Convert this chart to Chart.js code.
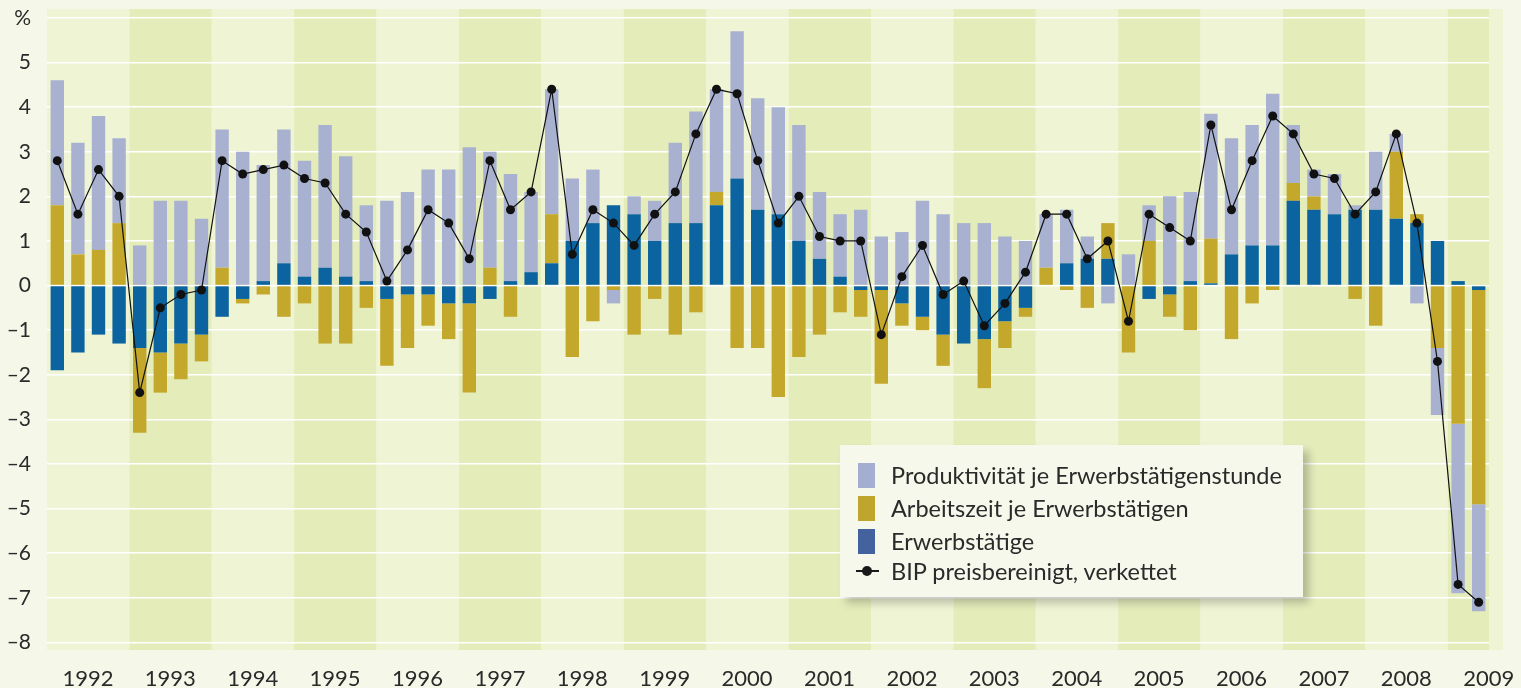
<!DOCTYPE html>
<html>
<head>
<meta charset="utf-8">
<script src="https://cdn.jsdelivr.net/npm/chart.js@4.4.0/dist/chart.umd.min.js"></script>
<style>
  html, body { margin: 0; padding: 0; background: #f5f7e9; }
  #wrap { position: relative; width: 1521px; height: 688px; }
  canvas { display: block; }
  .legend {
    position: absolute; left: 840px; top: 445px; width: 463px; height: 152px;
    background: #f6f8eb; box-shadow: 6px 6px 8px rgba(0,0,0,0.22);
    font-family: Lato, sans-serif; font-size: 23.5px; color: #2a2a2a;
  }
  .row { position: absolute; left: 0; height: 32px; display: flex; align-items: center; white-space: nowrap; }
  .sw { width: 17px; height: 25px; margin-left: 18px; margin-right: 16px; }
  .ln { position: relative; width: 23px; height: 2px; background: #1a1a1a; margin-left: 16px; margin-right: 12px; }
  .ln::after { content: ""; position: absolute; left: 6px; top: -4px; width: 10px; height: 10px; border-radius: 50%; background: #1a1a1a; }
</style>
</head>
<body>
<div id="wrap">
  <canvas id="chart" width="1521" height="688"></canvas>
  <div class="legend">
    <div class="row" style="top:14px"><div class="sw" style="background:#a3aed1"></div>Produktivität je Erwerbstätigenstunde</div>
    <div class="row" style="top:47px"><div class="sw" style="background:#bfa52e"></div>Arbeitszeit je Erwerbstätigen</div>
    <div class="row" style="top:80px"><div class="sw" style="background:#44639e"></div>Erwerbstätige</div>
    <div class="row" style="top:110px"><div class="ln"></div>BIP preisbereinigt, verkettet</div>
  </div>
</div>
<script>
// --- Data (quarterly contributions, %) ---
const years = [1992, 1993, 1994, 1995, 1996, 1997, 1998, 1999, 2000,
               2001, 2002, 2003, 2004, 2005, 2006, 2007, 2008, 2009];

const erwerbstaetige = [
  -1.9, -1.5, -1.1, -1.3,   -1.4, -1.5, -1.3, -1.1,   -0.7, -0.3, 0.1, 0.5,
   0.2, 0.4, 0.2, 0.1,      -0.3, -0.2, -0.2, -0.4,   -0.4, -0.3, 0.1, 0.3,
   0.5, 1.0, 1.4, 1.8,       1.6, 1.0, 1.4, 1.4,       1.8, 2.4, 1.7, 1.6,
   1.0, 0.6, 0.2, -0.1,     -0.1, -0.4, -0.7, -1.1,   -1.3, -1.2, -0.8, -0.5,
   0.0, 0.5, 0.6, 0.6,       0.0, -0.3, -0.2, 0.1,     0.05, 0.7, 0.9, 0.9,
   1.9, 1.7, 1.6, 1.7,       1.7, 1.5, 1.4, 1.0,       0.1, -0.1
];
const arbeitszeit = [
   1.8, 0.7, 0.8, 1.4,      -1.9, -0.9, -0.8, -0.6,    0.4, -0.1, -0.2, -0.7,
  -0.4, -1.3, -1.3, -0.5,   -1.5, -1.2, -0.7, -0.8,   -2.0, 0.4, -0.7, 0.0,
   1.1, -1.6, -0.8, -0.1,   -1.1, -0.3, -1.1, -0.6,    0.3, -1.4, -1.4, -2.5,
  -1.6, -1.1, -0.6, -0.6,   -2.1, -0.5, -0.3, -0.7,    0.0, -1.1, -0.6, -0.2,
   0.4, -0.1, -0.5, 0.8,    -1.5, 1.0, -0.5, -1.0,     1.0, -1.2, -0.4, -0.1,
   0.4, 0.3, 0.0, -0.3,     -0.9, 1.5, 0.2, -1.4,     -3.1, -4.8
];
const produktivitaet = [
   2.8, 2.5, 3.0, 1.9,       0.9, 1.9, 1.9, 1.5,       3.1, 3.0, 2.6, 3.0,
   2.6, 3.2, 2.7, 1.7,       1.9, 2.1, 2.6, 2.6,       3.1, 2.6, 2.4, 1.8,
   2.8, 1.4, 1.2, -0.3,      0.4, 0.9, 1.8, 2.5,       2.3, 3.3, 2.5, 2.4,
   2.6, 1.5, 1.4, 1.7,       1.1, 1.2, 1.9, 1.6,       1.4, 1.4, 1.1, 1.0,
   1.2, 1.2, 0.5, -0.4,      0.7, 0.8, 2.0, 2.0,       2.8, 2.6, 2.7, 3.4,
   1.3, 0.6, 0.9, 0.1,       1.3, 0.4, -0.4, -1.5,    -3.8, -2.4
];
const bip = [
   2.8, 1.6, 2.6, 2.0,      -2.4, -0.5, -0.2, -0.1,    2.8, 2.5, 2.6, 2.7,
   2.4, 2.3, 1.6, 1.2,       0.1, 0.8, 1.7, 1.4,       0.6, 2.8, 1.7, 2.1,
   4.4, 0.7, 1.7, 1.4,       0.9, 1.6, 2.1, 3.4,       4.4, 4.3, 2.8, 1.4,
   2.0, 1.1, 1.0, 1.0,      -1.1, 0.2, 0.9, -0.2,      0.1, -0.9, -0.4, 0.3,
   1.6, 1.6, 0.6, 1.0,      -0.8, 1.6, 1.3, 1.0,       3.6, 1.7, 2.8, 3.8,
   3.4, 2.5, 2.4, 1.6,       2.1, 3.4, 1.4, -1.7,     -6.7, -7.1
];

const quarterLabels = [];
years.forEach(y => ['Q1', 'Q2', 'Q3', 'Q4'].forEach(q => quarterLabels.push(y + ' ' + q)));
const labels = quarterLabels.slice(0, bip.length);

const lightBand = '#eff4d4';
const darkBand = '#e4ecba';

// alternating year backgrounds
const yearBands = {
  id: 'yearBands',
  beforeDraw(chart) {
    const { ctx, chartArea: { top, bottom, right }, scales: { x } } = chart;
    const w = x.getPixelForValue(1) - x.getPixelForValue(0);
    ctx.save();
    years.forEach((y, i) => {
      const start = x.getPixelForValue(i * 4) - w / 2;
      const end = Math.min(start + 4 * w, right);
      ctx.fillStyle = i % 2 ? darkBand : lightBand;
      ctx.fillRect(start, top, end - start, bottom - top);
    });
    ctx.fillStyle = lightBand;
    ctx.fillRect(right, top, 14, bottom - top);
    ctx.restore();
  }
};

const font = { family: 'Lato, sans-serif', size: 21 };

new Chart(document.getElementById('chart').getContext('2d'), {
  type: 'bar',
  data: {
    labels: labels,
    datasets: [
      { label: 'Erwerbstätige', data: erwerbstaetige, backgroundColor: '#0b64a0' },
      { label: 'Arbeitszeit je Erwerbstätigen', data: arbeitszeit, backgroundColor: '#c4a82c' },
      { label: 'Produktivität je Erwerbstätigenstunde', data: produktivitaet, backgroundColor: '#a8b2d0' },
      {
        type: 'line', label: 'BIP preisbereinigt, verkettet', data: bip, stack: 'bip', order: -1,
        borderColor: '#111', borderWidth: 1.2, tension: 0,
        pointRadius: 4.5, pointBackgroundColor: '#111', pointBorderWidth: 0
      }
    ]
  },
  options: {
    responsive: false,
    animation: false,
    layout: { padding: { top: 9, right: 32, left: 0, bottom: 0 } },
    datasets: { bar: { barPercentage: 0.65, categoryPercentage: 1.0, borderWidth: 0 } },
    plugins: { legend: { display: false }, tooltip: { enabled: false } },
    scales: {
      x: {
        stacked: true,
        grid: { display: false },
        border: { display: false },
        afterFit(scale) { scale.height = 38; scale.paddingLeft = 0; scale.paddingRight = 0; },
        ticks: {
          autoSkip: false, maxRotation: 0, minRotation: 0,
          padding: 8, labelOffset: 10,
          font: { family: 'Lato, sans-serif', size: 22 }, color: '#2a2a2a',
          callback: (v, i) => i % 4 === 1 ? labels[i].slice(0, 4) : ''
        }
      },
      y: {
        stacked: true,
        min: -8.17, max: 6.2,
        afterFit(scale) { scale.width = 47; scale.paddingTop = 0; scale.paddingBottom = 0; },
        grid: { color: '#ffffff', lineWidth: 1.5, drawTicks: false },
        border: { display: false },
        ticks: {
          stepSize: 1, includeBounds: false, padding: 16,
          font: font, color: '#2a2a2a',
          callback: v => v === 6 ? '%' : (v < 0 ? '–' + Math.abs(v) : v)
        }
      }
    }
  },
  plugins: [yearBands]
});
</script>
</body>
</html>
